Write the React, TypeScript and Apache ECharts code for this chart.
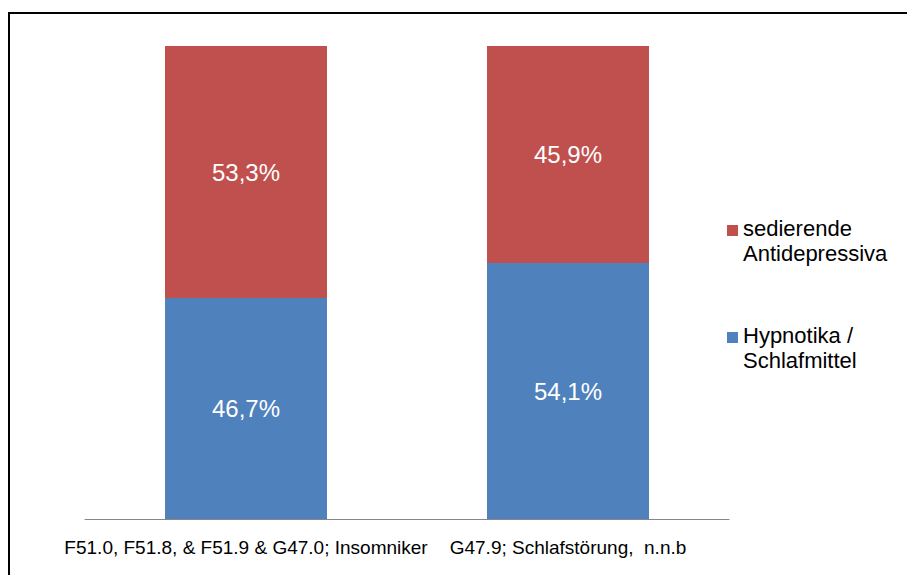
import React, { useEffect, useRef } from "react";
import * as echarts from "echarts";

const categories = [
  "F51.0, F51.8, & F51.9 & G47.0; Insomniker",
  "G47.9; Schlafstörung,  n.n.b",
];
const hypnotika = [46.7, 54.1];
const antidepressiva = [53.3, 45.9];
const seriesNames = ["Hypnotika / Schlafmittel", "sedierende Antidepressiva"];
const legendLines = [
  ["sedierende", "Antidepressiva"],
  ["Hypnotika /", "Schlafmittel"],
];

const FONT = "'Liberation Sans', Arial, sans-serif";
const RED = "#C0504D";
const BLUE = "#4F81BD";

export default function App() {
  const ref = useRef<HTMLDivElement>(null);
  useEffect(() => {
    if (!ref.current) return;
    const chart = echarts.init(ref.current, null, { renderer: "svg" });
    const fmt = (p: any) => String(p.value.toFixed(1)).replace(".", ",") + "%";
    const labelStyle = {
      show: true,
      position: "inside" as const,
      color: "#ffffff",
      fontSize: 24,
      fontFamily: FONT,
      formatter: fmt,
    };
    chart.setOption({
      animation: false,
      backgroundColor: "#ffffff",
      textStyle: { fontFamily: FONT },
      grid: { left: 85, right: 178, top: 46, bottom: 56, containLabel: false },
      xAxis: {
        type: "category",
        data: categories,
        axisLine: { show: true, lineStyle: { color: "#868686", width: 1 } },
        axisTick: { show: false },
        axisLabel: {
          color: "#000000",
          fontSize: 19,
          fontFamily: FONT,
          margin: 19,
          interval: 0,
        },
      },
      yAxis: {
        type: "value",
        min: 0,
        max: 100,
        show: false,
        splitLine: { show: false },
      },
      series: [
        {
          name: seriesNames[0],
          type: "bar",
          stack: "total",
          data: hypnotika,
          barWidth: 162,
          itemStyle: { color: BLUE },
          label: labelStyle,
        },
        {
          name: seriesNames[1],
          type: "bar",
          stack: "total",
          data: antidepressiva,
          barWidth: 162,
          itemStyle: { color: RED },
          label: labelStyle,
        },
      ],
      graphic: [
        {
          type: "line",
          shape: { x1: 9, y1: 12, x2: 9, y2: 575 },
          style: { stroke: "#000000", lineWidth: 2 },
        },
        {
          type: "line",
          shape: { x1: 8, y1: 13, x2: 907, y2: 13 },
          style: { stroke: "#000000", lineWidth: 2 },
        },
        {
          type: "rect",
          shape: { x: 727, y: 225, width: 11, height: 11 },
          style: { fill: RED },
        },
        {
          type: "text",
          x: 743,
          y: 216,
          style: {
            text: legendLines[0].join("\n"),
            fill: "#000000",
            font: `22px ${FONT}`,
            lineHeight: 25,
          },
        },
        {
          type: "rect",
          shape: { x: 727, y: 332, width: 11, height: 11 },
          style: { fill: BLUE },
        },
        {
          type: "text",
          x: 743,
          y: 323,
          style: {
            text: legendLines[1].join("\n"),
            fill: "#000000",
            font: `22px ${FONT}`,
            lineHeight: 25,
          },
        },
      ],
    });
    return () => chart.dispose();
  }, []);
  return (
    <div
      ref={ref}
      style={{ position: "fixed", left: 0, top: 0, width: 907, height: 575 }}
    />
  );
}
